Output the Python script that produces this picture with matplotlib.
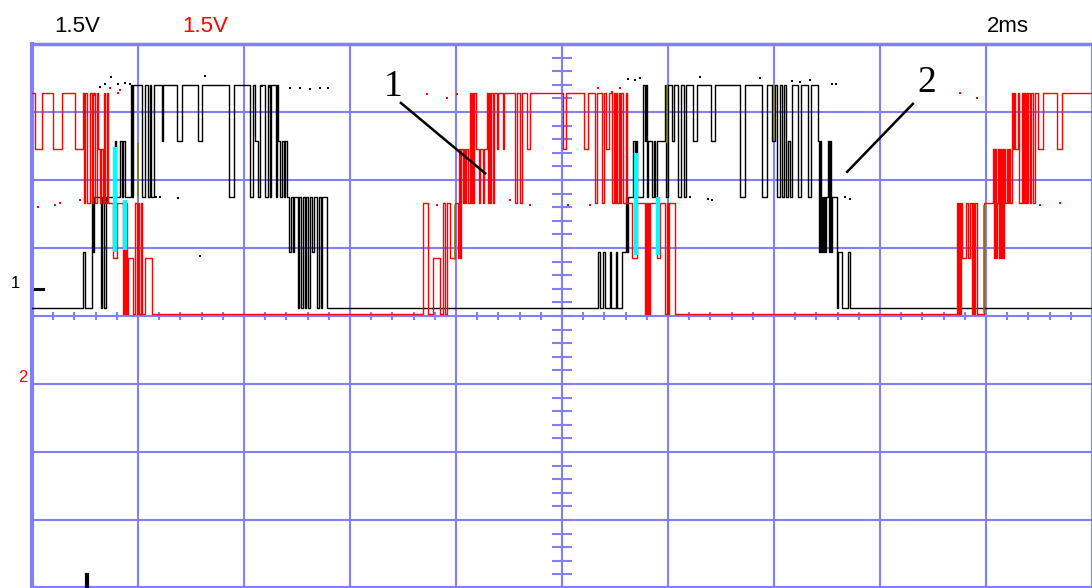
import matplotlib
matplotlib.use("Agg")
import matplotlib.pyplot as plt
import numpy as np
from matplotlib.collections import LineCollection

# Screen settings: 10 divisions x 2 ms, 8 divisions x 1.5 V
TIME_PER_DIV = 2.0
VOLT_PER_DIV = 1.5
N_XDIV, N_YDIV = 10, 8

# Discrete output levels (V) of the two channels
ch1_levels = [0.18, 1.41, 2.63, 3.86, 5.10]
ch2_levels = [0.04, 1.28, 2.49, 3.68, 4.92]

# Channel 1 (black): switching instants (ms) and level index held from that instant
ch1_t = [0.000, 0.962, 0.991, 1.132, 1.160, 1.179, 1.302, 1.330, 1.358, 1.387,
         1.566, 1.585, 1.660, 1.698, 1.726, 1.755, 1.868, 1.887, 1.906, 2.075,
         2.132, 2.189, 2.226, 2.245, 2.302, 2.453, 2.481, 2.736, 2.830, 3.132,
         3.208, 3.717, 3.811, 4.113, 4.170, 4.208, 4.264, 4.302, 4.396, 4.453,
         4.491, 4.509, 4.604, 4.623, 4.642, 4.679, 4.717, 4.755, 4.774, 4.811,
         4.849, 4.887, 4.925, 4.943, 5.019, 5.047, 5.075, 5.104, 5.151, 5.179,
         5.208, 5.236, 5.283, 5.321, 5.377, 5.406, 5.453, 5.472, 5.566,
         10.679, 10.708, 10.774, 10.802, 10.906, 10.925, 11.019, 11.047, 11.132, 11.208,
         11.226, 11.245, 11.340, 11.368, 11.396, 11.415, 11.528, 11.566, 11.585, 11.604,
         11.623, 11.698, 11.736, 11.755, 11.792, 11.943, 11.962, 12.000, 12.075, 12.113,
         12.189, 12.245, 12.302, 12.340, 12.472, 12.547, 12.811, 12.887, 13.358, 13.453,
         13.774, 13.868, 13.962, 14.019, 14.057, 14.113, 14.151, 14.189, 14.226, 14.264,
         14.302, 14.340, 14.453, 14.509, 14.642, 14.698, 14.830, 14.849, 14.868, 14.887,
         14.906, 14.925, 14.943, 14.962, 14.981, 15.019, 15.038, 15.057, 15.075, 15.094,
         15.189, 15.208, 15.283, 15.396, 15.425, 20.000]
ch1_lvl = [0, 1, 0, 2, 1, 2, 0, 2, 0, 2,
           3, 2, 3, 2, 3, 2, 4, 2, 4, 2,
           4, 2, 4, 2, 4, 3, 4, 3, 4, 3,
           4, 2, 4, 2, 4, 3, 2, 4, 2, 4,
           2, 4, 2, 4, 3, 2, 3, 2, 3, 2,
           1, 2, 1, 2, 0, 2, 0, 2, 0, 2,
           0, 2, 1, 2, 0, 2, 0, 2, 0,
           1, 0, 1, 0, 1, 0, 1, 0, 1, 2,
           1, 2, 3, 2, 3, 2, 4, 3, 4, 2,
           3, 2, 3, 2, 3, 4, 2, 4, 3, 4,
           2, 4, 2, 4, 3, 4, 3, 4, 2, 4,
           2, 4, 3, 4, 2, 4, 2, 4, 2, 3,
           2, 4, 2, 4, 2, 4, 3, 1, 3, 1,
           2, 1, 2, 1, 2, 3, 1, 3, 1, 2,
           0, 1, 0, 1, 0, 0]

# Channel 2 (red)
ch2_t = [0.000, 0.057, 0.189, 0.396, 0.566, 0.811, 0.962, 0.981, 1.009, 1.038,
         1.085, 1.132, 1.151, 1.189, 1.217, 1.245, 1.283, 1.302, 1.340, 1.358,
         1.377, 1.406, 1.425, 1.528, 1.604, 1.717, 1.736, 1.755, 1.774, 1.792,
         1.811, 1.906, 1.943, 1.972, 2.000, 2.028, 2.057, 2.075, 2.132, 2.264,
         7.377, 7.472, 7.566, 7.698, 7.755, 7.792, 7.830, 7.887, 7.981, 8.038,
         8.057, 8.075, 8.094, 8.132, 8.151, 8.170, 8.189, 8.226, 8.264, 8.283,
         8.302, 8.321, 8.340, 8.377, 8.434, 8.453, 8.509, 8.528, 8.585, 8.604,
         8.623, 8.642, 8.660, 8.698, 8.717, 8.774, 8.792, 8.887, 8.906, 9.113,
         9.151, 9.208, 9.245, 9.340, 9.396, 10.019, 10.075, 10.415, 10.491, 10.623,
         10.660, 10.755, 10.792, 10.830, 10.887, 10.943, 10.981, 11.000, 11.019, 11.038,
         11.075, 11.094, 11.113, 11.151, 11.208, 11.226, 11.321, 11.415, 11.566, 11.585,
         11.604, 11.623, 11.642, 11.660, 11.792, 11.849, 11.943, 11.972, 12.000, 12.028,
         12.132,
         17.453, 17.472, 17.491, 17.509, 17.528, 17.547, 17.623, 17.660, 17.698, 17.736,
         17.755, 17.774, 17.792, 17.830, 17.962, 18.132, 18.151, 18.170, 18.189, 18.208,
         18.226, 18.245, 18.264, 18.283, 18.302, 18.321, 18.340, 18.358, 18.396, 18.415,
         18.434, 18.453, 18.491, 18.509, 18.528, 18.547, 18.604, 18.623, 18.679, 18.698,
         18.717, 18.736, 18.755, 18.774, 18.792, 18.830, 18.858, 18.887, 18.925, 18.981,
         19.075, 19.340, 19.434, 20.000]
ch2_lvl = [4, 3, 4, 3, 4, 3, 4, 2, 4, 2,
           4, 2, 4, 2, 4, 3, 2, 3, 2, 4,
           2, 4, 2, 1, 2, 0, 2, 0, 2, 0,
           1, 0, 2, 0, 2, 0, 2, 0, 1, 0,
           2, 0, 1, 0, 2, 0, 2, 1, 2, 1,
           3, 1, 3, 2, 3, 2, 3, 2, 4, 2,
           4, 2, 4, 3, 2, 3, 2, 3, 4, 2,
           4, 2, 4, 2, 4, 3, 4, 3, 4, 2,
           4, 2, 4, 3, 4, 3, 4, 3, 4, 2,
           4, 2, 4, 3, 4, 2, 4, 2, 4, 2,
           4, 2, 4, 2, 4, 2, 1, 2, 0, 2,
           0, 2, 0, 2, 1, 2, 0, 2, 0, 2,
           0,
           2, 0, 2, 0, 2, 1, 2, 1, 2, 0,
           2, 0, 2, 0, 2, 3, 1, 3, 1, 2,
           3, 1, 3, 1, 3, 1, 3, 2, 3, 2,
           3, 2, 4, 3, 4, 3, 4, 2, 4, 2,
           4, 2, 4, 2, 4, 2, 4, 2, 4, 3,
           4, 3, 4, 4]

# Overlap segments the scope paints in other colours: time (ms), low (V), high (V)
cyan_t = [1.566, 1.755, 11.387, 11.802]
cyan_lo = [1.41, 1.46, 1.35, 1.35]
cyan_hi = [3.73, 2.56, 3.60, 2.63]
olive_t = [2.000, 7.981, 11.981, 13.991, 17.962]
olive_lo = [2.63, 1.24, 3.82, 3.88, 0.07]
olive_hi = [3.82, 2.45, 5.10, 5.10, 2.45]

# Isolated sample dots (ms, V)
ch1_dot_t = [1.28, 1.38, 1.49, 1.62, 1.75, 1.85, 3.26, 4.34, 4.49, 4.62, 4.87, 5.06,
             5.25, 5.43, 5.58, 2.34, 2.42, 2.75, 3.17,
             11.25, 11.38, 11.47, 12.60, 13.74, 14.34, 14.49, 14.68, 15.09, 15.17,
             15.34, 15.43, 12.42, 12.75, 12.83]
ch1_dot_v = [5.05, 5.12, 5.27, 5.12, 5.14, 5.12, 5.29, 5.07, 5.05, 5.03, 5.03, 5.03,
             5.01, 5.03, 5.03, 2.63, 2.63, 2.60, 1.32,
             5.23, 5.21, 5.25, 5.27, 5.25, 5.18, 5.16, 5.21, 5.12, 5.12,
             2.63, 2.58, 2.63, 2.58, 2.56]
ch2_dot_t = [0.11, 0.43, 0.53, 0.91, 1.19, 1.47, 1.62, 1.66, 7.45, 7.64, 7.83, 8.02,
             9.02, 9.40, 10.11, 10.53, 10.68, 10.94, 11.09, 17.51, 17.83, 19.02, 19.40]
ch2_dot_v = [2.40, 2.45, 2.49, 2.56, 4.88, 5.03, 4.92, 4.99, 4.90, 2.45, 4.81, 4.90,
             2.56, 2.45, 2.45, 2.45, 5.03, 4.94, 5.03, 4.92, 4.81, 2.45, 2.49]

GRID = "#8080ff"

W, H = 1092, 588
fig = plt.figure(figsize=(W / 100, H / 100), dpi=100)
fig.patch.set_facecolor("white")
ax = fig.add_axes([32 / W, 0, 1060 / W, 544 / H])
xmax = N_XDIV * TIME_PER_DIV
ymax = N_YDIV / 2 * VOLT_PER_DIV
ax.set_xlim(0, xmax)
ax.set_ylim(-ymax, ymax)
ax.set_xticks([])
ax.set_yticks([])
for s in ax.spines.values():
    s.set_color(GRID)
    s.set_linewidth(1.5)
ax.spines["left"].set_linewidth(3.0)
ax.spines["top"].set_linewidth(2.5)

# graticule
for i in range(1, N_XDIV):
    ax.axvline(i * TIME_PER_DIV, color=GRID, lw=1.5, zorder=1)
for j in range(1, N_YDIV):
    ax.axhline(-ymax + j * VOLT_PER_DIV, color=GRID, lw=1.5, zorder=1)
ax.axhline(-ymax, color=GRID, lw=3, zorder=1)

# minor ticks on the centre cross
segs = []
for t in np.arange(0, xmax + 1e-9, TIME_PER_DIV / 5):
    segs.append([(t, -0.09), (t, 0.09)])
for v in np.arange(-ymax, ymax + 1e-9, VOLT_PER_DIV / 5):
    segs.append([(xmax / 2 - 0.19, v), (xmax / 2 + 0.19, v)])
ax.add_collection(LineCollection(segs, colors=GRID, linewidths=1.5, zorder=1))

# traces
v1 = [ch1_levels[k] for k in ch1_lvl]
v2 = [ch2_levels[k] for k in ch2_lvl]
ax.step(ch1_t, v1, where="post", color="black", lw=1.0, zorder=3)
ax.step(ch2_t, v2, where="post", color="#ff0000", lw=1.0, zorder=4)
ax.vlines(cyan_t, cyan_lo, cyan_hi, colors="#00ffff", lw=3.2, zorder=5)
ax.vlines(olive_t, olive_lo, olive_hi, colors="#808000", lw=1.2, zorder=5)
ax.scatter(ch1_dot_t, ch1_dot_v, s=2.5, color="black", marker="s", lw=0, zorder=3)
ax.scatter(ch2_dot_t, ch2_dot_v, s=2.5, color="#ff0000", marker="s", lw=0, zorder=4)

# callouts
ax.plot([6.96, 8.55], [4.70, 3.15], color="black", lw=1.8, zorder=6)
ax.text(6.81, 5.05, "1", family="Liberation Serif", fontsize=27, ha="center",
        va="center", zorder=6)
ax.plot([16.62, 15.38], [4.68, 3.18], color="black", lw=1.8, zorder=6)
ax.text(16.89, 5.14, "2", family="Liberation Serif", fontsize=27, ha="center",
        va="center", zorder=6)

# header and channel markers
hdr = dict(family="Liberation Sans", fontsize=16, va="baseline", ha="center")
fig.text(77 / W, 1 - 32 / H, "1.5V", color="black", **hdr)
fig.text(205 / W, 1 - 32 / H, "1.5V", color="#ff0000", **hdr)
fig.text(1008 / W, 1 - 32 / H, "2ms", color="black", **hdr)
fig.text(15 / W, 1 - 284 / H, "1", color="black", family="Liberation Sans",
         fontsize=12, ha="center", va="center")
fig.text(23 / W, 1 - 377 / H, "2", color="#ff0000", family="Liberation Sans",
         fontsize=12, ha="center", va="center")
fig.add_artist(plt.Line2D([35 / W, 43 / W], [1 - 289 / H, 1 - 289 / H],
                          color="black", lw=2.2))
fig.add_artist(plt.Line2D([87 / W, 87 / W], [1 - 575 / H, 1 - 588 / H],
                          color="black", lw=3))

fig.savefig("out.png", dpi=100, facecolor="white")
